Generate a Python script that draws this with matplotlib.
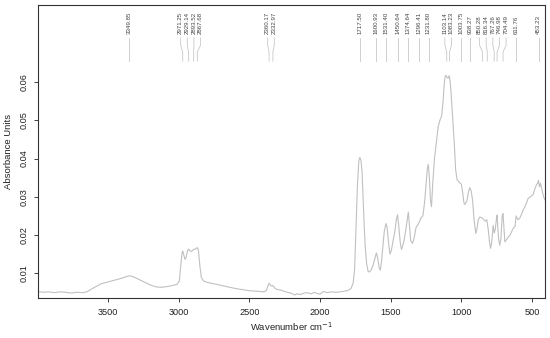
import matplotlib
matplotlib.use("Agg")
import matplotlib.pyplot as plt
import numpy as np

plt.rcParams["font.family"] = ["Liberation Sans", "DejaVu Sans"]

# IR spectrum (wavenumber in cm-1, absorbance)
wavenumber = [
    3996, 3960, 3920, 3880, 3840, 3800, 3760, 3720, 3680, 3650,
    3600, 3550, 3500, 3450, 3400, 3370, 3350, 3330, 3300, 3250,
    3200, 3160, 3120, 3080, 3040, 3010, 2995, 2985, 2975, 2971,
    2965, 2955, 2948, 2938, 2929, 2920, 2910, 2900, 2893, 2885,
    2875, 2868, 2860, 2850, 2840, 2825, 2800, 2760, 2700, 2650,
    2600, 2550, 2500, 2450, 2400, 2380, 2370, 2360, 2350, 2340,
    2333, 2320, 2300, 2270, 2250, 2220, 2200, 2180, 2160, 2140,
    2120, 2100, 2080, 2060, 2040, 2020, 2000, 1985, 1970, 1950,
    1920, 1880, 1840, 1800, 1780, 1765, 1755, 1745, 1735, 1725,
    1718, 1710, 1702, 1695, 1688, 1680, 1670, 1660, 1650, 1640,
    1625, 1610, 1601, 1592, 1580, 1573, 1565, 1555, 1545, 1533,
    1525, 1515, 1505, 1495, 1485, 1470, 1460, 1451, 1443, 1432,
    1423, 1412, 1403, 1390, 1375, 1366, 1358, 1345, 1335, 1320,
    1306, 1296, 1285, 1272, 1260, 1248, 1240, 1234, 1226, 1218,
    1211, 1203, 1190, 1176, 1164, 1150, 1140, 1130, 1122, 1115,
    1108, 1100, 1093, 1086, 1080, 1072, 1062, 1050, 1040, 1030,
    1015, 1000, 990, 982, 975, 960, 948, 940, 930, 920,
    910, 898, 890, 880, 869, 850, 840, 830, 820, 810,
    800, 793, 785, 775, 767, 760, 752, 747, 741, 735,
    728, 720, 711, 705, 698, 692, 680, 668, 657, 640,
    628, 620, 612, 605, 597, 585, 570, 563, 545, 527,
    510, 492, 480, 468, 460, 454, 447, 440, 432, 425,
    418, 408,
]
absorbance = [
    0.0052, 0.0050, 0.0051, 0.0049, 0.0051, 0.0050, 0.0048, 0.0050, 0.0049, 0.0051,
    0.0062, 0.0072, 0.0077, 0.0082, 0.0087, 0.0091, 0.0093, 0.0092, 0.0087, 0.0078,
    0.0069, 0.0064, 0.0063, 0.0065, 0.0068, 0.0071, 0.0080, 0.0120, 0.0155, 0.0158,
    0.0150, 0.0136, 0.0140, 0.0158, 0.0163, 0.0158, 0.0157, 0.0160, 0.0163, 0.0162,
    0.0165, 0.0167, 0.0160, 0.0120, 0.0090, 0.0080, 0.0076, 0.0073, 0.0068, 0.0064,
    0.0060, 0.0057, 0.0054, 0.0053, 0.0051, 0.0054, 0.0065, 0.0074, 0.0068, 0.0066,
    0.0068, 0.0061, 0.0057, 0.0055, 0.0052, 0.0049, 0.0047, 0.0043, 0.0046, 0.0044,
    0.0047, 0.0049, 0.0048, 0.0046, 0.0050, 0.0047, 0.0045, 0.0050, 0.0052, 0.0049,
    0.0051, 0.0050, 0.0052, 0.0055, 0.0060, 0.0075, 0.0110, 0.0220, 0.0330, 0.0395,
    0.0403, 0.0395, 0.0365, 0.0300, 0.0230, 0.0170, 0.0125, 0.0105, 0.0103, 0.0107,
    0.0120, 0.0140, 0.0153, 0.0140, 0.0112, 0.0108, 0.0130, 0.0170, 0.0210, 0.0230,
    0.0220, 0.0180, 0.0150, 0.0160, 0.0180, 0.0210, 0.0240, 0.0253, 0.0225, 0.0180,
    0.0162, 0.0175, 0.0190, 0.0220, 0.0260, 0.0220, 0.0185, 0.0178, 0.0190, 0.0220,
    0.0228, 0.0235, 0.0245, 0.0250, 0.0285, 0.0340, 0.0375, 0.0385, 0.0350, 0.0290,
    0.0274, 0.0330, 0.0400, 0.0445, 0.0483, 0.0502, 0.0510, 0.0545, 0.0590, 0.0614,
    0.0618, 0.0612, 0.0610, 0.0617, 0.0605, 0.0570, 0.0510, 0.0440, 0.0370, 0.0345,
    0.0338, 0.0333, 0.0310, 0.0285, 0.0280, 0.0290, 0.0315, 0.0324, 0.0315, 0.0290,
    0.0240, 0.0204, 0.0215, 0.0240, 0.0247, 0.0244, 0.0240, 0.0236, 0.0240, 0.0215,
    0.0180, 0.0165, 0.0180, 0.0225, 0.0205, 0.0215, 0.0240, 0.0252, 0.0215, 0.0185,
    0.0173, 0.0190, 0.0250, 0.0256, 0.0215, 0.0182, 0.0188, 0.0195, 0.0198, 0.0212,
    0.0220, 0.0222, 0.0250, 0.0243, 0.0240, 0.0245, 0.0258, 0.0265, 0.0278, 0.0296,
    0.0300, 0.0306, 0.0320, 0.0332, 0.0335, 0.0343, 0.0326, 0.0335, 0.0322, 0.0310,
    0.0300, 0.0292,
]

# Annotated peak positions
peaks = [
    3349.85, 2971.25, 2929.14, 2893.52, 2867.68, 2360.17, 2332.97,
    1717.50, 1600.93, 1531.40, 1450.64, 1374.64, 1296.41, 1231.80,
    1103.14, 1083.23, 1003.75, 938.27, 850.28, 816.34, 767.26,
    746.98, 704.49, 611.76, 453.23,
]


def spread_labels(pos, gap):
    # merge neighbouring labels into clusters and spread them evenly
    pos = sorted(pos, reverse=True)
    clusters = [[p] for p in pos]
    changed = True
    while changed:
        changed = False
        centers = []
        for c in clusters:
            mid = np.mean(c)
            n = len(c)
            centers.append((mid + gap * (n - 1) / 2, mid - gap * (n - 1) / 2))
        for i in range(len(clusters) - 1):
            if centers[i][1] - centers[i + 1][0] < gap:
                clusters[i] = clusters[i] + clusters[i + 1]
                del clusters[i + 1]
                changed = True
                break
    out = []
    for c in clusters:
        mid = np.mean(c)
        n = len(c)
        out += [mid + gap * ((n - 1) / 2 - k) for k in range(n)]
    return pos, out


def main():
    fig = plt.figure(figsize=(5.5, 3.38), dpi=100)
    ax = fig.add_axes([38 / 550, 40 / 338, 507 / 550, 293 / 338])

    ax.plot(wavenumber, absorbance, color="#c0c0c0", linewidth=0.8)

    ax.set_xlim(3995, 408)
    ax.set_ylim(0.0035, 0.0802)

    # peak labels with leader lines
    pk, lab = spread_labels(peaks, 47)
    y_top, y_b1, y_b2, y_bot = 0.0716, 0.0697, 0.0679, 0.0655
    for p, l in zip(pk, lab):
        ax.plot([l, l, p, p], [y_top, y_b1, y_b2, y_bot],
                color="#c8c8c8", linewidth=0.6)
        ax.text(l, 0.0727, f"{p:.2f}", rotation=90, ha="center", va="bottom",
                fontsize=4.4, color="#444444")

    ax.set_xticks([3500, 3000, 2500, 2000, 1500, 1000, 500])
    ax.set_yticks([0.01, 0.02, 0.03, 0.04, 0.05, 0.06])
    ax.set_yticklabels(["0.01", "0.02", "0.03", "0.04", "0.05", "0.06"])
    ax.tick_params(direction="out", length=3, width=0.6, labelsize=6.6,
                   colors="#222222")
    ax.tick_params(axis="x", pad=4)
    ax.tick_params(axis="y", pad=4, labelrotation=90)
    for t in ax.get_yticklabels():
        t.set_va("center")

    for s in ax.spines.values():
        s.set_linewidth(0.8)
        s.set_color("#333333")

    ax.set_xlabel("Wavenumber cm$^{-1}$", fontsize=6.8, color="#222222")
    ax.set_ylabel("Absorbance Units", fontsize=6.8, color="#222222")
    ax.xaxis.set_label_coords(0.5, -0.078)
    ax.yaxis.set_label_coords(-0.05, 0.5)

    fig.savefig("out.png", dpi=100)
    plt.close(fig)


if __name__ == "__main__":
    main()
